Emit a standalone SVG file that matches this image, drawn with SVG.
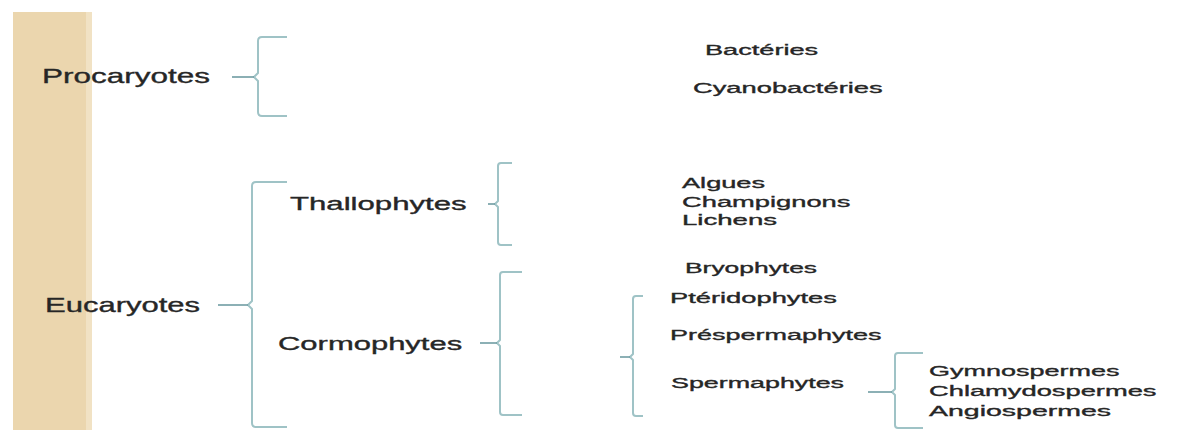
<svg xmlns="http://www.w3.org/2000/svg" width="1181" height="430" viewBox="0 0 1181 430">
<style>
.t{font-family:"Liberation Sans",Arial,sans-serif;fill:#262626;stroke:#262626;stroke-width:0.35;}
.big{font-size:20px;}
.mid{font-size:19px;}
.sm{font-size:15px;}
.br{fill:none;stroke:#9fc3c6;stroke-width:2;stroke-linejoin:round;}
.st{fill:none;stroke:#6f9ca2;stroke-width:1.6;}
</style>
<rect width="1181" height="430" fill="#ffffff"/>
<rect x="13" y="12" width="79" height="418" fill="#ebd6ae"/>
<rect x="86" y="12" width="6" height="418" fill="#f1e2c4"/>
<g id="connectors">
<path class="br" d="M287,37 L262,37 Q258,37 258,41 L258,73 L254,77 L258,81 L258,112 Q258,116 262,116 L287,116"/>
<path class="st" d="M232,77 L254,77"/>
<path class="br" d="M287,182 L256,182 Q252,182 252,186 L252,301 L248,305 L252,309 L252,423 Q252,427 256,427 L287,427"/>
<path class="st" d="M218,305 L248,305"/>
<path class="br" d="M512,163 L501,163 Q498,163 498,166 L498,201 L495,204 L498,207 L498,242 Q498,245 501,245 L512,245"/>
<path class="st" d="M488,204 L495,204"/>
<path class="br" d="M522,272 L503,272 Q500,272 500,275 L500,340 L497,343 L500,346 L500,412 Q500,415 503,415 L522,415"/>
<path class="st" d="M480,343 L497,343"/>
<path class="br" d="M643,296 L636,296 Q633,296 633,299 L633,354 L630,357 L633,360 L633,413 Q633,416 636,416 L643,416"/>
<path class="st" d="M620,357 L630,357"/>
<path class="br" d="M923,353 L898,353 Q895,353 895,356 L895,389 L892,392 L895,395 L895,425 Q895,428 898,428 L923,428"/>
<path class="st" d="M868,392 L892,392"/>
</g>
<g id="procaryotes"><text class="t big" transform="translate(42,83) scale(1.575,1)">Procaryotes</text></g>
<g id="eucaryotes"><text class="t big" transform="translate(45,312) scale(1.55,1)">Eucaryotes</text></g>
<g id="thallophytes"><text class="t mid" transform="translate(290,210) scale(1.64,1)">Thallophytes</text></g>
<g id="cormophytes"><text class="t mid" transform="translate(278,350) scale(1.63,1)">Cormophytes</text></g>
<g id="bacteries"><text class="t sm" transform="translate(705,55) scale(1.81,1)">Bactéries</text></g>
<g id="cyanobacteries"><text class="t sm" transform="translate(693,93) scale(1.82,1)">Cyanobactéries</text></g>
<g id="thallo-list">
<text class="t sm" transform="translate(682,188) scale(1.81,1)">Algues</text>
<text class="t sm" transform="translate(682,207) scale(1.82,1)">Champignons</text>
<text class="t sm" transform="translate(682,225) scale(1.84,1)">Lichens</text>
</g>
<g id="bryophytes"><text class="t sm" transform="translate(685,273) scale(1.76,1)">Bryophytes</text></g>
<g id="pteridophytes"><text class="t sm" transform="translate(670,303) scale(1.82,1)">Ptéridophytes</text></g>
<g id="prespermaphytes"><text class="t sm" transform="translate(670,340) scale(1.8,1)">Préspermaphytes</text></g>
<g id="spermaphytes"><text class="t sm" transform="translate(671,388) scale(1.79,1)">Spermaphytes</text></g>
<g id="sperma-list">
<text class="t sm" transform="translate(929,376) scale(1.8,1)">Gymnospermes</text>
<text class="t sm" transform="translate(929,396) scale(1.82,1)">Chlamydospermes</text>
<text class="t sm" transform="translate(929,416) scale(1.9,1)">Angiospermes</text>
</g>
</svg>
